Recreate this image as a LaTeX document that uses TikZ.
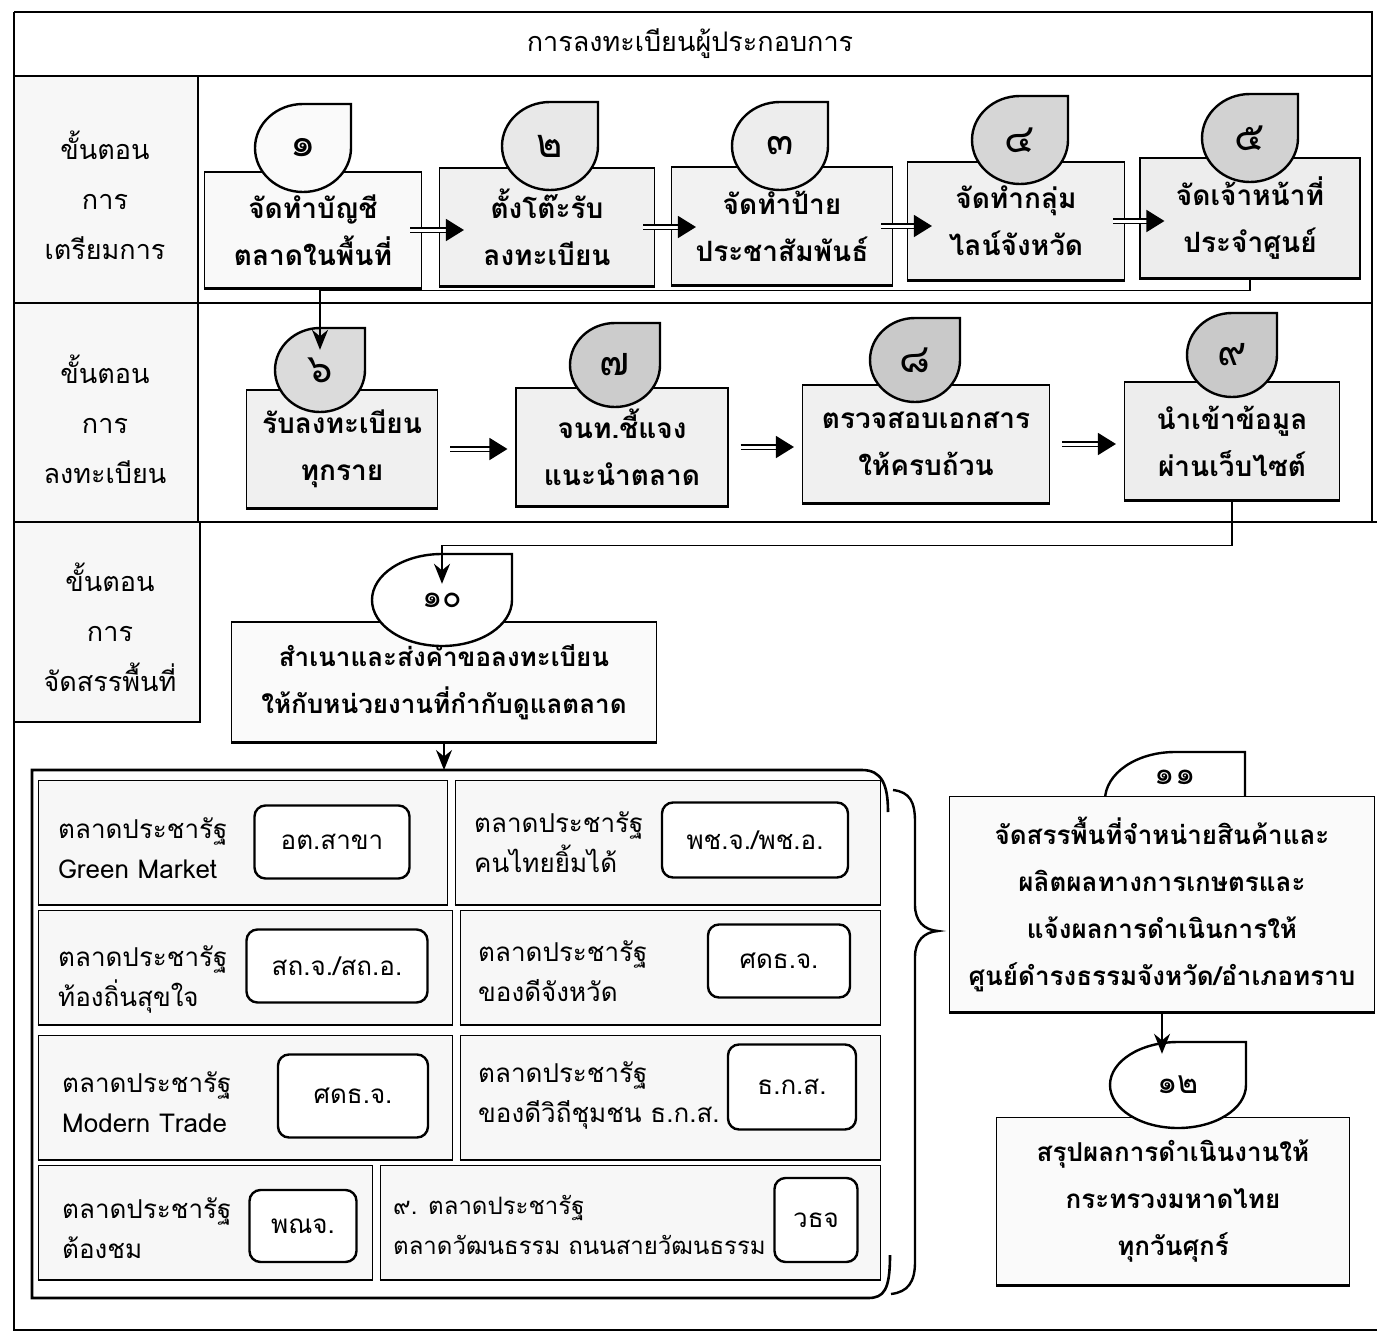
\documentclass[tikz,border=0pt]{standalone}
\usepackage{fontspec}
\usetikzlibrary{arrows.meta,calc}
\newfontfamily\thai[Script=Thai]{Loma}
% drop shape: name, cx, cy, rx, ry, fill
\newcommand\dropshape[6]{%
  \filldraw[line width=2.4pt, fill=#6] (#2+#4,#3-#5) -- (#2,#3-#5) arc[start angle=90,end angle=360,x radius=#4pt,y radius=#5pt] -- cycle;
  \node[minimum width=2*#4pt, minimum height=2*#5pt] (#1) at (#2,#3) {};}
\begin{document}
\begin{tikzpicture}[x=1pt,y=-1pt,
  every node/.style={inner sep=0pt},
  rule/.style={line width=2.2pt},
  lbl/.style={align=center, font=\thai\fontsize{27}{50}\selectfont},
  stepbox/.style={draw, line width=1.1pt, align=center, font=\thai\bfseries\fontsize{28}{47}\selectfont},
  widebox/.style={stepbox, font=\thai\bfseries\fontsize{26}{47}\selectfont},
  bignum/.style={font=\thai\fontsize{40}{40}\selectfont},
  smallnum/.style={font=\thai\fontsize{32}{32}\selectfont},
  shadowline/.style={line width=3pt},
  dbl/.style={line width=1.5pt, double, double distance=3pt, -{Triangle[length=18pt,width=22pt]}},
  conn/.style={line width=1.8pt, -{Stealth[length=20pt,width=16pt]}},
  cell/.style={draw, line width=0.8pt, fill=gray!6},
  celltext/.style={anchor=west, align=left, font=\thai\fontsize{26}{40}\selectfont},
  tag/.style={draw, line width=2.4pt, rounded corners=11pt, fill=white, font=\thai\fontsize{26}{28}\selectfont},
  frameline/.style={line width=2.6pt}]
\useasboundingbox (0,0) rectangle (1377,1336);
\fill[white] (0,0) rectangle (1377,1336);
% label column backgrounds
\fill[gray!6] (14,76) rectangle (198,522);
\fill[gray!6] (14,522) rectangle (200,722);
% page frame and grid
\draw[rule] (14,12) -- (1372,12) -- (1372,522);
\draw[rule] (14,12) -- (14,1330) -- (1377,1330);
\draw[rule] (14,76) -- (1372,76);
\draw[rule] (198,76) -- (198,522);
\draw[rule] (14,303) -- (1372,303);
\draw[rule] (14,522) -- (1377,522);
\draw[rule] (200,522) -- (200,722) -- (14,722);
% title and labels
\node[font=\thai\fontsize{27}{30}\selectfont] (title) at (690,44) {การลงทะเบียนผู้ประกอบการ};
\node[lbl] (l1) at (105,195) {ขั้นตอน\\การ\\เตรียมการ};
\node[lbl] (l2) at (105,419) {ขั้นตอน\\การ\\ลงทะเบียน};
\node[lbl] (l3) at (110,627) {ขั้นตอน\\การ\\จัดสรรพื้นที่};
% row 1
\node[stepbox, fill=gray!5, minimum width=217pt, minimum height=116pt] (b1) at (313,230) {จัดทำบัญชี\\ตลาดในพื้นที่};
\node[stepbox, fill=gray!12, minimum width=215pt, minimum height=118pt] (b2) at (547,227) {ตั้งโต๊ะรับ\\ลงทะเบียน};
\node[stepbox, fill=gray!10, minimum width=221pt, minimum height=118pt] (b3) at (782,226) {จัดทำป้าย\\ประชาสัมพันธ์};
\node[stepbox, fill=gray!12, minimum width=217pt, minimum height=118pt] (b4) at (1016,221) {จัดทำกลุ่ม\\ไลน์จังหวัด};
\node[stepbox, fill=gray!14, minimum width=220pt, minimum height=120pt] (b5) at (1250,218) {จัดเจ้าหน้าที่\\ประจำศูนย์};
\foreach \b in {b1,b2,b3,b4,b5} {\draw[shadowline] (\b.south west) -- (\b.south east);}
\dropshape{d1}{303}{148}{48}{44}{gray!4}
\dropshape{d2}{550}{146}{48}{44}{gray!18}
\dropshape{d3}{780}{146}{48}{44}{gray!14}
\dropshape{d4}{1020}{140}{48}{44}{gray!32}
\dropshape{d5}{1250}{138}{48}{44}{gray!35}
\node[bignum] (n1) at (d1) {๑};
\node[bignum] (n2) at (d2) {๒};
\node[bignum] (n3) at (d3) {๓};
\node[bignum] (n4) at (d4) {๔};
\node[bignum] (n5) at (d5) {๕};
\draw[dbl] ([xshift=-12pt]b1.east) -- ([xshift=25pt]b1.east -| b2.west);
\draw[dbl] ([xshift=-12pt]b2.east) -- ([xshift=25pt]b2.east -| b3.west);
\draw[dbl] ([xshift=-12pt]b3.east) -- ([xshift=25pt]b3.east -| b4.west);
\draw[dbl] ([xshift=-12pt]b4.east) -- ([xshift=25pt]b4.east -| b5.west);
% row 2
\node[stepbox, fill=gray!12, minimum width=191pt, minimum height=118pt] (b6) at (342,449) {รับลงทะเบียน\\ทุกราย};
\node[stepbox, fill=gray!12, minimum width=212pt, minimum height=118pt] (b7) at (622,447) {จนท.ชี้แจง\\แนะนำตลาด};
\node[stepbox, fill=gray!12, minimum width=247pt, minimum height=118pt] (b8) at (926,444) {ตรวจสอบเอกสาร\\ให้ครบถ้วน};
\node[stepbox, fill=gray!14, minimum width=215pt, minimum height=118pt] (b9) at (1232,441) {นำเข้าข้อมูล\\ผ่านเว็บไซต์};
\foreach \b in {b6,b7,b8,b9} {\draw[shadowline] (\b.south west) -- (\b.south east);}
\dropshape{d6}{320}{370}{45}{42}{gray!28}
\dropshape{d7}{615}{365}{45}{42}{gray!40}
\dropshape{d8}{915}{360}{45}{42}{gray!42}
\dropshape{d9}{1232}{355}{45}{42}{gray!42}
\node[bignum] (n6) at (d6) {๖};
\node[bignum] (n7) at (d7) {๗};
\node[bignum] (n8) at (d8) {๘};
\node[bignum] (n9) at (d9) {๙};
\draw[dbl] ([xshift=12pt]b6.east) -- ([xshift=-8pt]b6.east -| b7.west);
\draw[dbl] ([xshift=12pt]b7.east) -- ([xshift=-8pt]b7.east -| b8.west);
\draw[dbl] ([xshift=12pt]b8.east) -- ([xshift=-8pt]b8.east -| b9.west);
\draw[conn, shorten >=-22pt] (b5.south) -- ++(0,12) -| (d6.north);
% row 3
\node[widebox, fill=gray!4, minimum width=425pt, minimum height=120pt] (b10) at (444,682) {สำเนาและส่งคำขอลงทะเบียน\\ให้กับหน่วยงานที่กำกับดูแลตลาด};
\draw[shadowline] (b10.south west) -- (b10.south east);
\dropshape{d10}{442}{600}{70}{46}{white}
\node[smallnum] (n10) at (d10) {๑๐};
\draw[conn, shorten >=-30pt] (b9.south) -- ++(0,45) -| (d10.north);
\coordinate (ftop) at (444,770);
\draw[conn] (b10.south) -- (ftop);
% market cells
\node[cell, minimum width=409pt, minimum height=125pt] (ca1) at (242.5,842.5) {};
\node[cell, minimum width=425pt, minimum height=125pt] (ca2) at (667.5,842.5) {};
\node[cell, minimum width=414pt, minimum height=115pt] (cb1) at (245,967.5) {};
\node[cell, minimum width=420pt, minimum height=115pt] (cb2) at (670,967.5) {};
\node[cell, minimum width=414pt, minimum height=125pt] (cc1) at (245,1097.5) {};
\node[cell, minimum width=420pt, minimum height=125pt] (cc2) at (670,1097.5) {};
\node[cell, minimum width=334pt, minimum height=115pt] (cd1) at (205,1222.5) {};
\node[cell, minimum width=500pt, minimum height=115pt] (cd2) at (630,1222.5) {};
\foreach \c in {ca1,ca2,cb1,cb2,cc1,cc2,cd1,cd2} {\draw[line width=2pt] (\c.south west) -- (\c.south east);}
\node[celltext] (ta1) at (58,848) {ตลาดประชารัฐ\\Green Market};
\node[celltext] (ta2) at (474,842) {ตลาดประชารัฐ\\คนไทยยิ้มได้};
\node[celltext] (tb1) at (58,979) {ตลาดประชารัฐ\\ท้องถิ่นสุขใจ};
\node[celltext] (tb2) at (478,971) {ตลาดประชารัฐ\\ของดีจังหวัด};
\node[celltext] (tc1) at (62,1102) {ตลาดประชารัฐ\\Modern Trade};
\node[celltext] (tc2) at (478,1095) {ตลาดประชารัฐ\\ของดีวิถีชุมชน ธ.ก.ส.};
\node[celltext] (td1) at (62,1228) {ตลาดประชารัฐ\\ต้องชม};
\node[celltext, font=\thai\fontsize{24}{40}\selectfont] (td2) at (393,1225) {๙. ตลาดประชารัฐ\\ตลาดวัฒนธรรม ถนนสายวัฒนธรรม};
\node[tag, minimum width=155pt, minimum height=73pt] (g1) at (332,842) {อต.สาขา};
\node[tag, minimum width=186pt, minimum height=75pt] (g2) at (755,840) {พช.จ./พช.อ.};
\node[tag, minimum width=181pt, minimum height=73pt] (g3) at (337,966) {สถ.จ./สถ.อ.};
\node[tag, minimum width=142pt, minimum height=73pt] (g4) at (779,961) {ศดธ.จ.};
\node[tag, minimum width=150pt, minimum height=83pt] (g5) at (353,1096) {ศดธ.จ.};
\node[tag, minimum width=128pt, minimum height=85pt] (g6) at (792,1087) {ธ.ก.ส.};
\node[tag, minimum width=107pt, minimum height=72pt] (g7) at (303,1226) {พณจ.};
\node[tag, minimum width=83pt, minimum height=84pt] (g8) at (816,1220) {วธจ};
% bracket frame and brace
\draw[frameline] (888,812) .. controls (888,785) and (882,770) .. (862,770) -- (32,770) -- (32,1298) -- (868,1298) .. controls (884,1298) and (890,1290) .. (890,1255);
\draw[line width=2.4pt] (893,790) .. controls (910,792) and (915,802) .. (915,822) -- (915,905) .. controls (915,921) and (924,930) .. (938,931) .. controls (924,932) and (915,941) .. (915,957) -- (915,1262) .. controls (915,1282) and (908,1292) .. (891,1294);
% right column
\dropshape{d11}{1175}{800}{70}{48}{white}
\node[smallnum] (n11) at (1175,777) {๑๑};
\node[widebox, fill=gray!4, minimum width=425pt, minimum height=215pt] (b11) at (1162,904) {จัดสรรพื้นที่จำหน่ายสินค้าและ\\ผลิตผลทางการเกษตรและ\\แจ้งผลการดำเนินการให้\\ศูนย์ดำรงธรรมจังหวัด/อำเภอทราบ};
\draw[shadowline] (b11.south west) -- (b11.south east);
\node[widebox, fill=gray!4, minimum width=353pt, minimum height=167pt] (b12) at (1173,1201) {สรุปผลการดำเนินงานให้\\กระทรวงมหาดไทย\\ทุกวันศุกร์};
\draw[shadowline] (b12.south west) -- (b12.south east);
\dropshape{d12}{1178}{1085}{68}{43}{white}
\node[smallnum] (n12) at (d12) {๑๒};
\draw[conn, shorten >=-12pt] (b11.south) -- (b11.south |- d12.north);
\end{tikzpicture}
\end{document}
